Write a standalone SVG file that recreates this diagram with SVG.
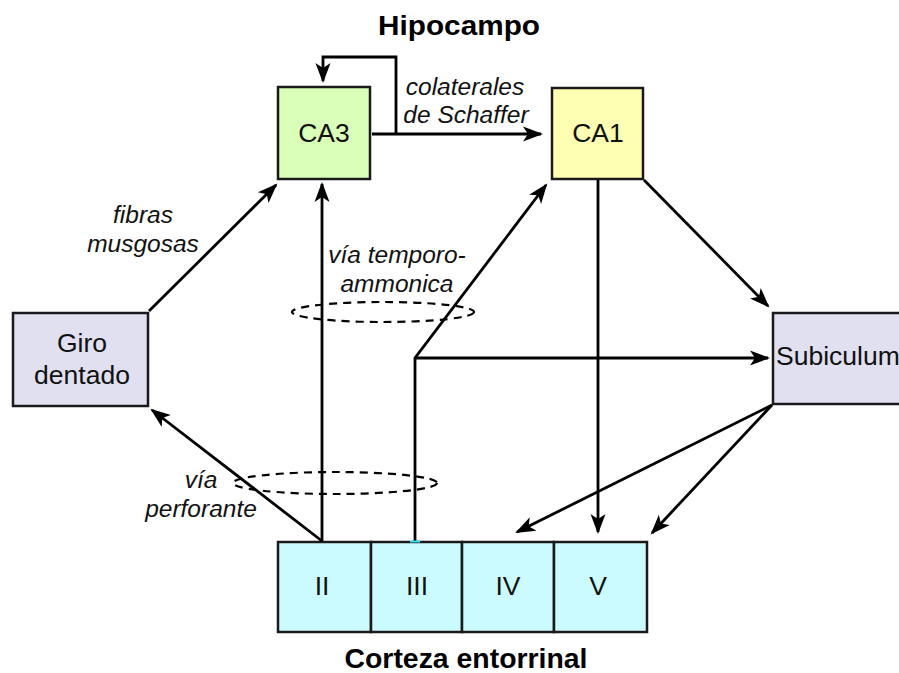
<svg xmlns="http://www.w3.org/2000/svg" width="899" height="673" viewBox="0 0 899 673">
<style>
.box{stroke:#1a1a1a;stroke-width:2.5}
.lbl{font-family:"Liberation Sans",Arial,sans-serif;font-size:26.5px;fill:#111;text-anchor:middle}
.it{font-family:"Liberation Sans",Arial,sans-serif;font-size:24.5px;font-style:italic;fill:#111;text-anchor:middle}
.ttl{font-family:"Liberation Sans",Arial,sans-serif;font-size:27px;font-weight:bold;fill:#000;text-anchor:middle}
.c{fill:none;stroke:#000;stroke-width:2.8}
.e{fill:none;stroke:#000;stroke-width:2.2;stroke-dasharray:8 6}
</style>
<defs>
<marker id="ah" viewBox="-20 -8 24 16" refX="0" refY="0" markerWidth="24" markerHeight="16" markerUnits="userSpaceOnUse" orient="auto">
<path d="M2,0 L-18,-7.5 L-13,0 L-18,7.5 Z" fill="#000"/>
</marker>
</defs>
<rect width="899" height="673" fill="#fff"/>
<text class="ttl" x="459" y="35" textLength="162" lengthAdjust="spacingAndGlyphs">Hipocampo</text>
<text class="ttl" x="466" y="668" textLength="243" lengthAdjust="spacingAndGlyphs">Corteza entorrinal</text>

<g id="ca3">
<rect class="box" x="278" y="87" width="92" height="92" fill="#d9ffb8" stroke="#1f2a10"/>
<text class="lbl" x="324" y="142">CA3</text>
</g>
<g id="ca1">
<rect class="box" x="552" y="88" width="91" height="91" fill="#ffffb3"/>
<text class="lbl" x="598" y="142">CA1</text>
</g>
<g id="giro">
<rect class="box" x="13" y="313" width="135" height="93" fill="#e0e0f0"/>
<text class="lbl" x="82" y="352">Giro</text>
<text class="lbl" x="82" y="384">dentado</text>
</g>
<g id="subiculum">
<rect class="box" x="773" y="313" width="140" height="91" fill="#e0e0f0"/>
<text class="lbl" x="776" y="365" style="text-anchor:start">Subiculum</text>
</g>
<g id="corteza">
<rect class="box" x="278" y="542" width="93" height="90" fill="#ccfbff"/>
<rect class="box" x="371" y="542" width="91" height="90" fill="#ccfbff"/>
<rect class="box" x="462" y="542" width="92" height="90" fill="#ccfbff"/>
<rect class="box" x="554" y="542" width="93" height="90" fill="#ccfbff"/>
<text class="lbl" x="322" y="595">II</text>
<text class="lbl" x="417" y="595">III</text>
<text class="lbl" x="508" y="595">IV</text>
<text class="lbl" x="598" y="595">V</text>
</g>

<g id="connectors">
<path class="c" d="M372,134 H541" marker-end="url(#ah)"/>
<path class="c" d="M396,134 V57 H323 V81" marker-end="url(#ah)"/>
<path class="c" d="M149,311 L276,185" marker-end="url(#ah)"/>
<path class="c" d="M322,541 V184" marker-end="url(#ah)"/>
<path class="c" d="M322,541 L152,410" marker-end="url(#ah)"/>
<path class="c" d="M415,541 V358 L546,185" marker-end="url(#ah)"/>
<path class="c" d="M415,358 H768" marker-end="url(#ah)"/>
<path class="c" d="M598,180 V532" marker-end="url(#ah)"/>
<path class="c" d="M644,180 L768,306" marker-end="url(#ah)"/>
<path class="c" d="M772,405 L517,532" marker-end="url(#ah)"/>
<path class="c" d="M772,405 L652,533" marker-end="url(#ah)"/>
<line x1="410" y1="541.5" x2="420" y2="541.5" stroke="#33e0ff" stroke-width="2"/>
<ellipse class="e" cx="383" cy="312" rx="91" ry="10"/>
<ellipse class="e" cx="335" cy="483" rx="102" ry="11"/>
</g>

<g id="labels">
<text class="it" x="465" y="95">colaterales</text>
<text class="it" x="466" y="123">de Schaffer</text>
<text class="it" x="143" y="223">fibras</text>
<text class="it" x="143" y="252">musgosas</text>
<text class="it" x="397" y="263">vía temporo-</text>
<text class="it" x="397" y="292">ammonica</text>
<text class="it" x="201" y="488">vía</text>
<text class="it" x="201" y="517">perforante</text>
</g>
</svg>
